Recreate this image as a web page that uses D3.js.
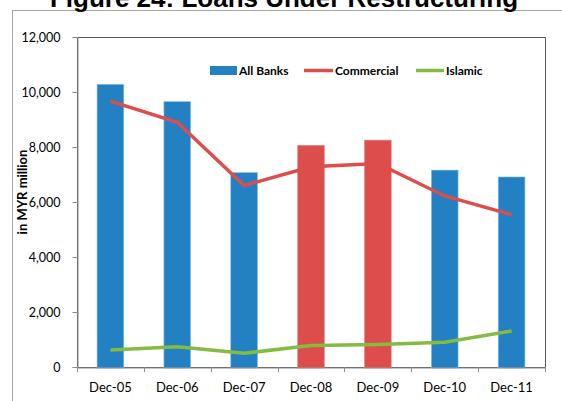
<!DOCTYPE html>
<html>
<head>
<meta charset="utf-8">
<script src="https://cdn.jsdelivr.net/npm/d3@7"></script>
<style>
  body { margin: 0; background: #fff; }
  text { font-family: Lato, "Open Sans", sans-serif; }
</style>
</head>
<body>
<div id="chart-area"></div>
<script>
// values (MYR million)
const months = ['Dec-05', 'Dec-06', 'Dec-07', 'Dec-08', 'Dec-09', 'Dec-10', 'Dec-11'];
const allBanks = [10280, 9650, 7070, 8060, 8250, 7160, 6910];
const commercial = [9670, 8900, 6600, 7280, 7400, 6220, 5540];
const islamic = [620, 740, 500, 780, 820, 900, 1310];
const highlighted = ['Dec-08', 'Dec-09'];
const yTicks = [0, 2000, 4000, 6000, 8000, 10000, 12000];

const W = 562, H = 401;
const margin = {top: 37, right: 17, bottom: 34, left: 77};
const width = W - margin.left - margin.right;
const height = H - margin.top - margin.bottom;

const blue = '#2280c3', red = '#dc4d4b', green = '#86bb42';

const svg = d3.select('#chart-area')
              .append('svg')
              .attr('width', W)
              .attr('height', H);

// outer frame + title (cut off at the top, as in the original)
svg.append('rect')
   .attr('x', 12.5).attr('y', 10.5)
   .attr('width', 600).attr('height', 500)
   .attr('fill', 'none').attr('stroke', '#a6a6a6');

svg.append('text')
   .attr('x', 284).attr('y', 7)
   .attr('text-anchor', 'middle')
   .style('font-family', '"Liberation Sans", Arial, sans-serif')
   .style('font-weight', 'bold')
   .style('font-size', '26px')
   .text('Figure 24: Loans Under Restructuring');

const g = svg.append('g')
             .attr('transform', `translate(${margin.left}, ${margin.top})`);

//scales
const x_s = d3.scaleBand()
              .domain(months)
              .range([0, width])
              .paddingInner(0.6)
              .paddingOuter(0.3);

const y_s = d3.scaleLinear()
              .domain([0, 12000])
              .range([height, 0]);

// plot area frame
g.append('rect')
 .attr('x', 0.5).attr('y', 0.5)
 .attr('width', width).attr('height', height)
 .attr('fill', 'none').attr('stroke', '#595959');

//bars
g.selectAll('.bar')
 .data(months)
 .enter()
 .append('rect')
 .attr('class', 'bar')
 .attr('x', d => x_s(d))
 .attr('y', (d, i) => y_s(allBanks[i]))
 .attr('width', x_s.bandwidth())
 .attr('height', (d, i) => height - y_s(allBanks[i]) + 1)
 .attr('fill', d => highlighted.includes(d) ? red : blue)
 .attr('stroke', d => highlighted.includes(d) ? '#e88a88' : '#8cc0e6')
 .attr('stroke-width', 0.6);

//lines
const cx = d => x_s(d) + x_s.bandwidth() / 2;
const line = vals => d3.line()
                       .x(d => cx(d))
                       .y((d, i) => y_s(vals[i]))(months);

g.append('path')
 .attr('d', line(commercial))
 .attr('fill', 'none').attr('stroke', red).attr('stroke-width', 3.5);

g.append('path')
 .attr('d', line(islamic))
 .attr('fill', 'none').attr('stroke', green).attr('stroke-width', 3.5);

//axes
const yAxis = d3.axisLeft(y_s)
                .tickValues(yTicks)
                .tickFormat(d3.format(','))
                .tickSize(5)
                .tickPadding(12);
g.append('g')
 .attr('class', 'y-axis')
 .attr('transform', 'translate(0.5,0)')
 .call(yAxis);

const xAxis = d3.axisBottom(x_s).tickSize(0).tickPadding(15);
g.append('g')
 .attr('class', 'x-axis')
 .attr('transform', `translate(0, ${height + 0.5})`)
 .call(xAxis);

// x tick marks between categories
g.selectAll('.xtick')
 .data(d3.range(months.length + 1))
 .enter()
 .append('line')
 .attr('class', 'xtick')
 .attr('x1', i => Math.round(i * x_s.step()) + 0.5)
 .attr('x2', i => Math.round(i * x_s.step()) + 0.5)
 .attr('y1', height).attr('y2', height + 5)
 .attr('stroke', '#8c8c8c');

svg.selectAll('.domain').attr('stroke', '#8c8c8c');
svg.selectAll('.y-axis .tick line').attr('stroke', '#8c8c8c');
svg.selectAll('.y-axis .tick text')
   .style('font-size', '12.5px')
   .attr('fill', '#000');
svg.selectAll('.x-axis .tick text')
   .style('font-size', '13px')
   .attr('fill', '#000');

// y axis title
svg.append('text')
   .attr('transform', 'translate(27, 192) rotate(-90)')
   .attr('text-anchor', 'middle')
   .style('font-weight', 'bold')
   .style('font-size', '13px')
   .text('in MYR million');

// legend
const legend = svg.append('g').style('font-size', '12px').style('font-weight', 'bold');
legend.append('rect')
      .attr('x', 210).attr('y', 66)
      .attr('width', 27).attr('height', 9)
      .attr('fill', blue);
legend.append('text').attr('x', 239).attr('y', 75).text('All Banks');
legend.append('line')
      .attr('x1', 304).attr('x2', 333).attr('y1', 70.5).attr('y2', 70.5)
      .attr('stroke', red).attr('stroke-width', 3.5);
legend.append('text').attr('x', 335).attr('y', 75).text('Commercial');
legend.append('line')
      .attr('x1', 416).attr('x2', 444).attr('y1', 70.5).attr('y2', 70.5)
      .attr('stroke', green).attr('stroke-width', 3.5);
legend.append('text').attr('x', 446).attr('y', 75).text('Islamic');
</script>
</body>
</html>
